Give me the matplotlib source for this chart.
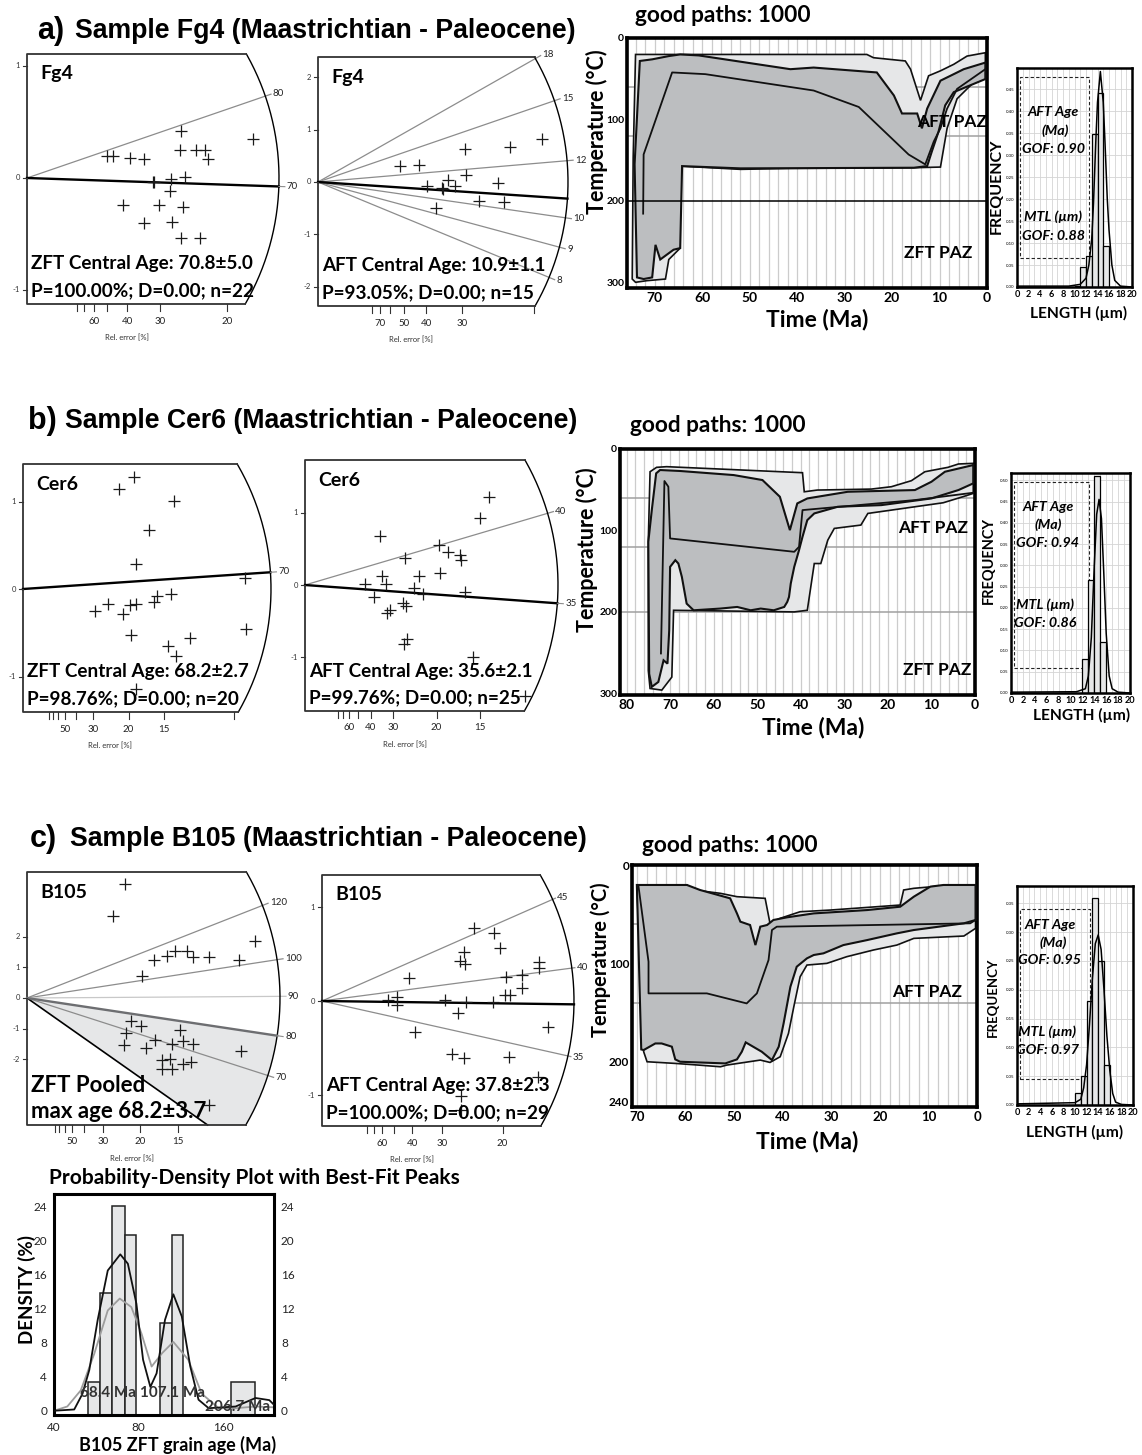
import numpy as np
import matplotlib.pyplot as plt
from matplotlib.ticker import NullLocator

W, H = 1142, 1455
fig = plt.figure(figsize=(W / 100, H / 100), dpi=100)

SANS = ['Lato', 'DejaVu Sans']
ARIAL = ['Liberation Sans', 'DejaVu Sans']
LIGHT = '#e6e7e8'
DARK = '#bcbec0'

# ---------------- data ----------------
# radial plots: x = precision (1/rel. error), z = standardised estimate
a1_x = [2.0, 2.15, 2.58, 2.93, 3.84, 3.82, 4.23, 4.46, 4.52, 5.64, 3.15, 3.18,
        3.6, 3.58, 3.94, 2.39, 3.29, 3.89, 2.93, 3.63, 3.86, 4.32]
a1_z = [0.20, 0.20, 0.18, 0.17, 0.42, 0.25, 0.25, 0.25, 0.17, 0.35, -0.04, -0.04,
        -0.01, -0.12, 0.01, -0.24, -0.24, -0.26, -0.40, -0.39, -0.54, -0.54]
a1_ages, a1_slopes = ['80'], [0.1227]

a2_x = [1.89, 2.33, 3.41, 4.44, 5.19, 3.01, 3.43, 2.52, 2.86, 3.16, 4.17, 3.73,
        4.30, 2.72, 2.89]
a2_z = [0.30, 0.33, 0.64, 0.66, 0.82, 0.03, 0.14, -0.07, -0.11, -0.08, -0.02,
        -0.36, -0.38, -0.50, -0.14]
a2_ages = ['18', '15', '12', '10', '9', '8']
a2_slopes = [0.469, 0.284, 0.0706, -0.1195, -0.223, -0.341]

b1_x = [5.24, 4.57, 7.16, 5.95, 5.35, 10.52, 3.42, 4.05, 4.76, 5.05, 5.36, 6.21,
        6.34, 7.0, 5.11, 7.92, 6.86, 7.26, 10.55, 5.36]
b1_z = [1.28, 1.14, 1.01, 0.67, 0.29, 0.13, -0.25, -0.17, -0.28, -0.18, -0.17,
        -0.15, -0.08, -0.06, -0.52, -0.56, -0.65, -0.77, -0.46, -1.14]

b2_x = [7.0, 6.65, 2.87, 5.09, 5.42, 5.91, 5.95, 3.80, 5.13, 4.33, 2.91, 2.28,
        3.08, 4.14, 4.49, 6.08, 2.63, 3.73, 3.84, 3.23, 3.10, 3.86, 3.77, 6.39, 8.35]
b2_z = [1.22, 0.92, 0.68, 0.56, 0.46, 0.41, 0.35, 0.37, 0.17, 0.12, 0.12, 0.01,
        0.01, -0.04, -0.12, -0.09, -0.17, -0.25, -0.29, -0.35, -0.39, -0.74,
        -0.82, -0.99, -1.54]
b2_ages, b2_slopes = ['40'], [0.1075]

c1_x = [4.31, 3.78, 10.04, 5.07, 5.59, 6.15, 6.51, 7.03, 7.31, 8.01, 9.34, 4.56,
        5.04, 4.34, 4.26, 5.25, 5.62, 6.40, 6.74, 6.87, 7.32, 5.96, 6.28, 5.96,
        6.37, 6.88, 7.21, 9.41, 8.01]
c1_z = [3.72, 2.66, 1.87, 0.73, 1.25, 1.38, 1.52, 1.52, 1.33, 1.33, 1.25, -0.76,
        -0.92, -1.14, -1.52, -1.63, -1.36, -1.50, -1.03, -1.41, -1.50, -2.01,
        -1.98, -2.32, -2.32, -2.14, -2.09, -1.72, -3.50]
c1_ages = ['120', '100', '90', '70']
c1_slopes = [0.2906, 0.1133, 0.0048, -0.238]

c2_x = [4.2, 4.77, 4.94, 3.92, 3.83, 3.95, 2.40, 5.10, 5.54, 6.0, 6.02, 5.54,
        5.07, 5.21, 1.83, 2.08, 2.08, 3.41, 3.99, 4.73, 3.78, 2.58, 6.27, 3.60,
        3.92, 5.19, 5.97, 3.86, 3.86]
c2_z = [0.78, 0.72, 0.56, 0.52, 0.43, 0.39, 0.24, 0.26, 0.28, 0.41, 0.35, 0.14,
        0.06, 0.06, 0.01, 0.04, -0.04, 0.01, -0.01, -0.01, -0.13, -0.33, -0.28,
        -0.56, -0.61, -0.60, -0.81, -1.01, -1.16]
c2_ages = ['45', '40', '35']
c2_slopes = [0.1692, 0.0506, -0.0858]

# thermal histories (time Ma, temperature C)
a_out_t = [74.0, 25.3, 23.9, 17.2, 16.1, 14.0, 12.3, 9.8, 7.0, 4.2, 0.35, 0.35, 6.3,
           8.4, 9.8, 15.4, 41.4, 51.9, 64.6, 64.6, 67.0, 67.7, 71.6, 74.0, 74.7, 74.5]
a_out_T = [20.2, 20.2, 24.2, 28.2, 38.3, 76.6, 46.4, 40.3, 32.3, 22.2, 18.1, 40.3, 74.6,
           110.9, 158.5, 159.3, 160.1, 161.3, 157.3, 258, 272, 296, 298, 300, 296, 147]
a_in_t = [73.1, 70.5, 67.0, 64.6, 60.7, 41.4, 36.5, 23.2, 19.6, 17.9, 14.7, 13.7, 12.6,
          9.8, 7.7, 4.9, 0.35, 0.35, 7.0, 8.8, 10.2, 11.6, 12.6, 15.4, 51.9, 64.2,
          64.6, 66.0, 68.8, 69.8, 70.5, 72.3, 73.7, 74.2]
a_in_T = [28.2, 26.2, 22.2, 20.2, 21.4, 38.3, 36.3, 42.3, 70.6, 92.7, 92.7, 110.9, 86.7,
          52.4, 46.4, 38.3, 30.2, 50.4, 66.5, 82.7, 114.9, 139.1, 157.3, 159.3, 160.1,
          157.3, 258, 260, 272, 254, 294, 296, 294, 155]
a_best_t = [72.4, 72.3, 66.3, 59.3, 36.5, 27.0, 16.5, 13.0, 11.2, 9.8, 8.4, 6.3, 0.35]
a_best_T = [215.7, 143, 42.3, 44.4, 64.5, 84.7, 143.1, 155.2, 127, 110.9, 86.7, 62.5, 38.3]

b_out_t = [74.6, 73.1, 70.8, 39.6, 39.2, 36.2, 23.8, 19.2, 14.6, 11.5, 6.2, 3.8, 0.4,
           0.4, 2.3, 7.3, 24.6, 26.2, 32.3, 33.8, 35.4, 36.9, 38.5, 41.5, 69.2, 69.6,
           71.9, 74.6, 75.0, 75.0]
b_out_T = [27.9, 22.5, 21.7, 29.1, 52.5, 50.4, 49.2, 46.3, 38.9, 27.9, 22.5, 18.4, 17.6,
           54.5, 57.8, 66.0, 79.1, 93.4, 97.5, 111.9, 140.6, 140.6, 198, 200, 198, 280,
           296, 294, 272, 112]
b_in_t = [75.0, 74.2, 73.2, 72.3, 67.7, 55.4, 48.8, 44.8, 42.5, 40.8, 38.5, 29.2, 13.8,
          10.0, 6.9, 0.4, 0.4, 3.8, 10.0, 21.5, 31.5, 36.9, 38.5, 39.6, 40.4, 41.5,
          42.3, 42.7, 43.1, 43.8, 46.2, 49.2, 51.5, 54.6, 58.5, 64.6, 66.2, 67.3, 68.1,
          68.8, 70.0, 70.2, 70.6, 71.5, 72.7, 74.2, 74.8]
b_in_T = [114, 75, 29.9, 25.8, 27, 32, 38.1, 58.6, 99.6, 66.8, 60.7, 52.5, 50.4, 40.2,
          27.9, 19.7, 42.2, 50.4, 60.7, 68.9, 70.9, 79.1, 87.3, 107.8, 124.2, 144.7,
          165.2, 181.6, 187.7, 193.9, 198, 195.9, 198, 193.9, 195.9, 198, 189.8, 157,
          140.6, 136.5, 144.7, 222.5, 263.5, 259.4, 286, 292, 276]
b_best_t = [72.1, 71.3, 70.4, 70.0, 41.5, 40.4, 39.6, 13.8, 0.4]
b_best_T = [251, 39.3, 46.3, 109.8, 126.2, 120.1, 75, 62.7, 53.7]

c_out_t = [70.0, 59.7, 58.3, 52.8, 49.4, 43.6, 42.6, 40.5, 36.4, 30.2, 25.4, 15.8, 15.1,
           13.0, 5.1, 0.3, 0.3, 2.7, 13.0, 16.5, 21.3, 26.8, 30.9, 35.0, 36.4, 37.7,
           38.8, 40.5, 42.6, 44.6, 51.5, 52.8, 57.3, 62.1, 67.9, 68.6]
c_out_T = [20.3, 20.3, 25.4, 28.8, 32.2, 33.9, 59.3, 54.2, 47.5, 45.8, 44.1, 40.7, 25.4,
           23.7, 20.3, 20.3, 64.4, 72.2, 74.6, 81.4, 86.4, 93.2, 100, 101.7, 113.6,
           144.1, 171.2, 194.9, 200.7, 198.3, 203.4, 205.1, 203.4, 201.7, 200, 189.8]
c_in_t = [70.0, 59.7, 57.0, 50.8, 49.4, 48.7, 46.7, 45.6, 44.6, 43.2, 41.9, 39.1, 33.6,
          22.6, 15.8, 13.0, 9.6, 6.9, 0.3, 0.3, 2.7, 13.0, 16.5, 22.6, 27.5, 31.6,
          33.6, 35.0, 37.1, 38.4, 39.8, 40.8, 42.2, 44.3, 47.6, 48.4, 49.4, 51.8,
          61.1, 62.1, 62.8, 64.9, 66.2, 68.6, 69.1]
c_in_T = [20.3, 20.3, 25.4, 33.9, 49.2, 57.6, 61, 81.4, 62.7, 61, 55.9, 53.2, 49.2,
          45.8, 42.4, 32.2, 22, 20.3, 20.3, 55.9, 59.3, 66.1, 69.5, 76.3, 81.4, 89.8,
          91.5, 94.9, 103.4, 123.7, 161, 184.7, 198.3, 189.8, 180.3, 189.8, 197.6,
          201.7, 200, 197.6, 184.7, 181.4, 181.4, 188.1, 187.5]
c_best_t = [69.7, 67.6, 67.6, 55.6, 47.4, 45.3, 42.9, 42.2, 41.2, 1.4, 0.3]
c_best_T = [20.3, 98.3, 130.5, 130.5, 140.7, 130.5, 96.6, 66.1, 62.7, 59.3, 55.9]

# track length histograms (um, frequency)
a_bins = [10, 11, 12, 13, 14, 15]
a_freq = [0.003, 0.046, 0.07, 0.348, 0.442, 0.093]
a_cx = [0, 9, 11, 12, 12.5, 13, 13.3, 13.7, 14.0, 14.5, 15.0, 15.3, 15.7, 16.0, 16.5, 17, 18, 20]
a_cy = [0.002, 0.002, 0.006, 0.02, 0.05, 0.11, 0.19, 0.33, 0.42, 0.49, 0.42, 0.33, 0.2,
        0.13, 0.05, 0.015, 0.002, 0.0]
b_bins = [12, 13, 14, 15]
b_freq = [0.08, 0.265, 0.51, 0.12]
b_cx = [0, 11, 12.5, 13, 13.5, 14, 14.4, 14.8, 15.2, 15.6, 16, 16.5, 17, 18, 20]
b_cy = [0.002, 0.003, 0.01, 0.04, 0.13, 0.3, 0.42, 0.455, 0.41, 0.28, 0.14, 0.04, 0.01,
        0.002, 0.0]
c_bins = [10, 11, 12, 13, 14, 15]
c_freq = [0.02, 0.05, 0.18, 0.36, 0.25, 0.07]
c_cx = [0, 10, 11, 11.5, 12, 12.5, 13, 13.5, 14, 14.5, 15, 15.5, 16, 16.5, 17, 18, 20]
c_cy = [0.002, 0.004, 0.01, 0.03, 0.07, 0.14, 0.22, 0.28, 0.295, 0.27, 0.2, 0.12, 0.06,
        0.02, 0.005, 0.001, 0.0]

# probability density plot (B105 ZFT)
pdp_left = [53.0, 58.4, 64.4, 71.3, 95.1, 104.7, 170.9]
pdp_right = [58.4, 64.4, 71.3, 78.5, 104.7, 115.4, 206.8]
pdp_dens = [3.4, 13.8, 24.1, 20.7, 10.3, 20.7, 3.4]
fit_age = [40, 47.2, 50.5, 53.4, 57.2, 62.1, 68.8, 73.2, 78.5, 82.9, 88, 92.6, 99.2,
           106.2, 113.8, 122, 130.5, 141.8, 176.8, 208, 232.9, 242]
fit_dens = [0.0, 0.15, 2.0, 4.8, 10.7, 16.5, 18.4, 17.3, 12.6, 6.0, 2.8, 4.4, 10.7,
            13.7, 11.1, 5.2, 1.3, 0.3, 0.5, 1.5, 1.25, 0.7]
pd_age = [40, 44.6, 49.8, 55.6, 62.1, 68.5, 75.3, 81.8, 88.9, 97, 106.2, 120, 134, 154,
          176.8, 208, 242]
pd_dens = [0.0, 0.5, 2.4, 6.7, 11.8, 13.2, 12.2, 9.1, 5.2, 6.8, 8.1, 6.0, 2.0, 0.3, 0.3,
           0.5, 0.4]


# ---------------- helpers ----------------
def px_axes(x0, y0, x1, y1):
    return fig.add_axes([x0 / W, 1 - y1 / H, (x1 - x0) / W, (y1 - y0) / H])


def ftext(x, y, s, **kw):
    kw.setdefault('family', SANS)
    fig.text(x / W, 1 - y / H, s, **kw)


def radial(ox, oy, sx, sy, R, ytop, ybot, yticks, re_ticks, re_labels, ages, slopes,
           central, cslope, px, pz, name, line1, line2, rel_dx,
           line_colors=None, ccolor='k', bound=None, big=False, ext=6):
    ax = px_axes(ox - 30, ytop - 12, ox + R + 32, ybot + 45)
    ax.set_xlim(-30 / sx, (R + 32) / sx)
    ax.set_ylim((oy - ybot - 45) / sy, (oy - ytop + 12) / sy)
    ax.axis('off')
    ztop, zbot = (oy - ytop) / sy, (oy - ybot) / sy
    t0, t1 = np.arcsin((oy - ybot) / R), np.arcsin((oy - ytop) / R)

    if bound is not None:
        # shaded wedge between central line and bounding line
        pc = np.arctan2(cslope * sy, sx)
        th = np.linspace(pc, t0, 60)
        xs = [0] + list(R * np.cos(th) / sx) + [zbot / bound, 0]
        ys = [0] + list(R * np.sin(th) / sy) + [zbot, 0]
        ax.fill(xs, ys, color=LIGHT, lw=0, zorder=0)
        ax.plot([0, zbot / bound], [0, zbot], color='k', lw=1.2, zorder=2)

    th = np.linspace(t0, t1, 200)
    ax.plot(R * np.cos(th) / sx, R * np.sin(th) / sy, color='k', lw=1.0)
    ax.plot([R * np.cos(t1) / sx, 0, 0, R * np.cos(t0) / sx],
            [ztop, ztop, zbot, zbot], color='#333333', lw=1.3)

    for i, (lab, s) in enumerate(zip(ages, slopes)):
        col = line_colors[i] if line_colors else '#8c8c8c'
        p = np.arctan2(s * sy, sx)
        r = R + ext
        ax.plot([0, r * np.cos(p) / sx], [0, r * np.sin(p) / sy], color=col, lw=0.9, zorder=1)
        ax.text((r + 2) * np.cos(p) / sx, (r + 2) * np.sin(p) / sy, lab, fontsize=7,
                family=SANS, color='#222', ha='left', va='center')
    p = np.arctan2(cslope * sy, sx)
    ax.plot([0, R * np.cos(p) / sx], [0, R * np.sin(p) / sy], color=ccolor, lw=1.7, zorder=2)
    if central:
        ax.plot([R * np.cos(p) / sx, (R + 6) * np.cos(p) / sx],
                [R * np.sin(p) / sy, (R + 6) * np.sin(p) / sy], color='#8c8c8c', lw=0.8)
        ax.text((R + 8) * np.cos(p) / sx, (R + 8) * np.sin(p) / sy, central, fontsize=7,
                family=SANS, color='#222', ha='left', va='center')

    ax.plot(px, pz, ls='none', marker='+', ms=8, mew=0.9, color='#1a1a1a', zorder=3)

    for v in yticks:
        ax.plot([0, -4 / sx], [v, v], color='#333', lw=0.8)
        ax.text(-7 / sx, v, str(v), fontsize=5.5, family=SANS, ha='right', va='center',
                color='#333')
    for re in re_ticks:
        x = 100 / re
        ax.plot([x, x], [zbot, zbot - 7 / sy], color='#333', lw=0.8)
        if re in re_labels:
            ax.text(x, zbot - 17 / sy, str(re), fontsize=7, family=SANS, ha='center',
                    va='center', color='#222')
    ax.text(rel_dx / sx, zbot - 34 / sy, 'Rel. error [%]', fontsize=5.5, family=SANS,
            ha='center', va='center', color='#333')

    ax.text(13 / sx, ztop - 20 / sy, name, fontsize=14, weight='bold', family=SANS,
            va='center', ha='left')
    fs = 16 if big else 13.6
    ax.text(4 / sx, zbot + 40 / sy, line1, fontsize=fs, weight='bold', family=SANS,
            va='center', ha='left', zorder=5)
    ax.text(4 / sx, zbot + 13 / sy, line2, fontsize=fs, weight='bold', family=SANS,
            va='center', ha='left', zorder=5)
    return ax


def thermal(x0, y0, x1, y1, tmax, Tmax, xticks, yticks, ot, oT, it, iT, bt, bT,
            hlines, hcolors, xfs, yfs):
    ax = px_axes(x0, y0, x1, y1)
    ax.set_xlim(tmax, 0)
    ax.set_ylim(Tmax, 0)
    for g in np.arange(2, tmax, 2):
        ax.axvline(g, color='#cccccc', lw=0.9, zorder=0)
    for v, c in zip(hlines, hcolors):
        ax.axhline(v, color=c, lw=1.1, zorder=5 if c == 'k' else 0.5)
    ax.fill(ot, oT, facecolor=LIGHT, edgecolor='#111', lw=1.2, zorder=2)
    ax.fill(it, iT, facecolor=DARK, edgecolor='#111', lw=1.5, zorder=3)
    ax.plot(bt, bT, color='#111', lw=1.3, zorder=4)
    for s in ax.spines.values():
        s.set_linewidth(2.6)
    ax.set_xticks(xticks)
    ax.set_xticklabels([str(v) for v in xticks], fontsize=xfs, fontweight='bold',
                       family=SANS)
    ax.set_yticks(yticks)
    ax.set_yticklabels([str(v) for v in yticks], fontsize=yfs, fontweight='bold',
                       family=SANS)
    ax.tick_params(axis='x', length=0, pad=3)
    ax.tick_params(axis='y', length=0, pad=2)
    return ax


def lengths(x0, y0, x1, y1, ymax, yticks, bins, freq, cx, cy, box, texts):
    ax = px_axes(x0, y0, x1, y1)
    ax.set_xlim(0, 20)
    ax.set_ylim(0, ymax)
    for g in range(1, 20):
        ax.axvline(g, color='#d4d4d4', lw=0.6, zorder=0)
    for v in yticks[1:]:
        ax.axhline(v, color='#d4d4d4', lw=0.6, zorder=0)
    ax.bar(bins, freq, width=1, align='edge', color=LIGHT, edgecolor='k', lw=0.9, zorder=2)
    ax.plot(cx, cy, color='k', lw=1.1, zorder=3)
    bx0, bx1, by0, by1 = box
    ax.plot([bx0, bx1, bx1, bx0, bx0], [by0, by0, by1, by1, by0], color='#222', lw=0.8,
            ls=(0, (3, 2)), zorder=1)
    for s in ax.spines.values():
        s.set_linewidth(1.8)
    ax.set_xticks(range(0, 21, 2))
    ax.set_xticklabels([str(v) for v in range(0, 21, 2)], fontsize=6.6, fontweight='bold',
                       family=SANS)
    ax.set_yticks(yticks)
    ax.set_yticklabels(['%.2f' % v for v in yticks], fontsize=3.2, family=SANS)
    ax.tick_params(length=0, pad=2)
    for (tx, ty, s) in texts:
        ftext(tx, ty, s, fontsize=10.3, weight='bold', style='italic', ha='center',
              va='center')
    return ax


# ---------------- section titles ----------------
for (x1, x2, y, tag, name) in [(37, 75, 31, 'a)', 'Fg4'), (28, 65, 421, 'b)', 'Cer6'),
                               (30, 70, 839, 'c)', 'B105')]:
    ftext(x1, y, tag, fontsize=22, weight='bold', family=ARIAL, va='center')
    ftext(x2, y, 'Sample %s (Maastrichtian - Paleocene)' % name, fontsize=19.2,
          weight='bold', family=ARIAL, va='center')

# ---------------- radial plots ----------------
radial(27, 178, 40, 112, 252, 54, 304, [1, 0, -1], [80, 70, 60, 50, 40, 30, 20],
       [60, 40, 30, 20], a1_ages, a1_slopes, '70', -0.012, a1_x, a1_z, 'Fg4',
       'ZFT Central Age: 70.8±5.0', 'P=100.00%; D=0.00; n=22', 100)
radial(318, 182, 43.2, 52.3, 250, 57, 306, [2, 1, 0, -1, -2],
       [80, 70, 60, 50, 40, 30, 20], [70, 50, 40, 30], a2_ages, a2_slopes, '',
       -0.055, a2_x, a2_z, 'Fg4', 'AFT Central Age: 10.9±1.1',
       'P=93.05%; D=0.00; n=15', 93)
radial(23, 589, 21.1, 87.5, 248, 464, 712, [1, 0, -1],
       [80, 70, 60, 50, 40, 30, 20, 15, 10], [50, 30, 20, 15], [], [], '70', 0.0163,
       b1_x, b1_z, 'Cer6', 'ZFT Central Age: 68.2±2.7', 'P=98.76%; D=0.00; n=20', 87)
radial(305, 585, 26.3, 72.3, 253, 460, 711, [1, 0, -1],
       [80, 70, 60, 50, 40, 30, 20, 15], [60, 40, 30, 20, 15], b2_ages, b2_slopes,
       '35', -0.02635, b2_x, b2_z, 'Cer6', 'AFT Central Age: 35.6±2.1',
       'P=99.76%; D=0.00; n=25', 100)
radial(27, 998, 22.7, 30.7, 253, 872, 1125, [2, 1, 0, -1, -2],
       [80, 70, 60, 50, 40, 30, 20, 15], [50, 30, 20, 15], c1_ages, c1_slopes, '80',
       -0.1114, c1_x, c1_z, 'B105', 'ZFT Pooled', 'max age 68.2±3.7', 105,
       line_colors=['#8c8c8c', '#8c8c8c', '#c8c8c8', '#8c8c8c'], ccolor='#6d6e71',
       bound=-0.520, big=True)
radial(322, 1001, 36.1, 94, 252, 875, 1126, [1, 0, -1],
       [80, 70, 60, 50, 40, 30, 20], [60, 40, 30, 20], c2_ages, c2_slopes, '',
       -0.0051, c2_x, c2_z, 'B105', 'AFT Central Age: 37.8±2.3',
       'P=100.00%; D=0.00; n=29', 90, ext=3)

# ---------------- thermal histories ----------------
thermal(627, 38, 987, 288, 75.8, 307, [70, 60, 50, 40, 30, 20, 10, 0], [0, 100, 200, 300],
        a_out_t, a_out_T, a_in_t, a_in_T, a_best_t, a_best_T,
        [60, 120, 200], ['#a0a0a0', '#a0a0a0', 'k'], 10, 7.5)
thermal(620, 449, 975, 695, 81.5, 302, [80, 70, 60, 50, 40, 30, 20, 10, 0],
        [0, 100, 200, 300], b_out_t, b_out_T, b_in_t, b_in_T, b_best_t, b_best_T,
        [60, 120, 200], ['#a0a0a0', '#a0a0a0', '#a0a0a0'], 10, 7.5)
thermal(632, 865, 977, 1107, 71, 246, [70, 60, 50, 40, 30, 20, 10, 0], [0, 100, 200, 240],
        c_out_t, c_out_T, c_in_t, c_in_T, c_best_t, c_best_T,
        [60, 140], ['#a0a0a0', '#a0a0a0'], 9.5, 8.5)

for (x, y) in [(635, 15), (630, 426), (642, 845)]:
    ftext(x, y, 'good paths: 1000', fontsize=16.3, weight='bold', va='center')
for (x, y, fs) in [(597, 132, 15.5), (587, 550, 15.5), (601, 960, 14.5)]:
    ftext(x, y, 'Temperature (°C)', fontsize=fs, weight='bold', va='center',
          ha='center', rotation=90)
for (x, y) in [(817, 320), (813, 728), (807, 1142)]:
    ftext(x, y, 'Time (Ma)', fontsize=16.5, weight='bold', va='center', ha='center')
for (x, y, s) in [(952, 122, 'AFT PAZ'), (938, 253, 'ZFT PAZ'), (933, 528, 'AFT PAZ'),
                  (937, 670, 'ZFT PAZ'), (927, 992, 'AFT PAZ')]:
    ftext(x, y, s, fontsize=12.5, weight='bold', va='center', ha='center')

# ---------------- length histograms ----------------
lengths(1017, 68, 1132, 287, 0.498, [0, 0.05, 0.1, 0.15, 0.2, 0.25, 0.3, 0.35, 0.4, 0.45],
        a_bins, a_freq, a_cx, a_cy, (0.47, 12.6, 0.066, 0.477),
        [(1053, 112, 'AFT Age'), (1055, 131, '(Ma)'), (1053, 149, 'GOF: 0.90'),
         (1053, 217, 'MTL (µm)'), (1053, 236, 'GOF: 0.88')])
lengths(1011, 473, 1130, 693, 0.517,
        [0, 0.05, 0.1, 0.15, 0.2, 0.25, 0.3, 0.35, 0.4, 0.45, 0.5],
        b_bins, b_freq, b_cx, b_cy, (0.56, 13.1, 0.059, 0.497),
        [(1048, 507, 'AFT Age'), (1048, 525, '(Ma)'), (1048, 543, 'GOF: 0.94'),
         (1045, 605, 'MTL (µm)'), (1045, 623, 'GOF: 0.86')])
lengths(1017, 886, 1133, 1105, 0.38, [0, 0.05, 0.1, 0.15, 0.2, 0.25, 0.3, 0.35],
        c_bins, c_freq, c_cx, c_cy, (0.5, 12.5, 0.045, 0.34),
        [(1050, 925, 'AFT Age'), (1053, 943, '(Ma)'), (1050, 960, 'GOF: 0.95'),
         (1047, 1032, 'MTL (µm)'), (1047, 1050, 'GOF: 0.97')])
for (x, y, fs) in [(997, 186, 11.5), (989, 560, 10.5), (993, 997, 9.5)]:
    ftext(x, y, 'FREQUENCY', fontsize=fs, weight='bold', rotation=90, ha='center',
          va='center')
for (x, y) in [(1079, 313), (1082, 715), (1075, 1132)]:
    ftext(x, y, 'LENGTH (µm)', fontsize=11.2, weight='bold', ha='center', va='center')

# ---------------- probability density plot ----------------
ax = px_axes(54, 1194, 274, 1415)
ax.set_xscale('log')
ax.set_xlim(40, 242)
ax.set_ylim(-0.5, 25.5)
for l, r, d in zip(pdp_left, pdp_right, pdp_dens):
    ax.bar(l, d + 0.5, width=r - l, bottom=-0.5, align='edge', color=LIGHT,
           edgecolor='#222', lw=1.1, zorder=1)
ax.plot(pd_age, pd_dens, color='#9d9d9d', lw=1.3, zorder=2)
ax.plot(fit_age, fit_dens, color='#111', lw=1.3, zorder=3)
for s in ax.spines.values():
    s.set_linewidth(2.2)
ax.set_xticks([40, 80, 160])
ax.set_xticklabels(['40', '80', '160'], fontsize=8.5, family=SANS)
ax.xaxis.set_minor_locator(NullLocator())
ax.set_yticks([0, 4, 8, 12, 16, 20, 24])
ax.set_yticklabels(['0', '4', '8', '12', '16', '20', '24'], fontsize=8.5, family=SANS)
ax.tick_params(length=0, pad=5, labelright=True, colors='#222')
for (x, y, s) in [(108, 1393, '68.4 Ma'), (173, 1393, '107.1 Ma'), (238, 1407, '206.7 Ma')]:
    ftext(x, y, s, fontsize=11, weight='bold', color='#333', ha='center', va='center')
ftext(254, 1178, 'Probability-Density Plot with Best-Fit Peaks', fontsize=15,
      weight='bold', ha='center', va='center')
ftext(27, 1290, 'DENSITY (%)', fontsize=13.5, weight='bold', rotation=90, ha='center',
      va='center')
ftext(178, 1445, 'B105 ZFT grain age (Ma)', fontsize=13, weight='bold', ha='center',
      va='center')

fig.savefig('out.png', dpi=100, facecolor='white')
